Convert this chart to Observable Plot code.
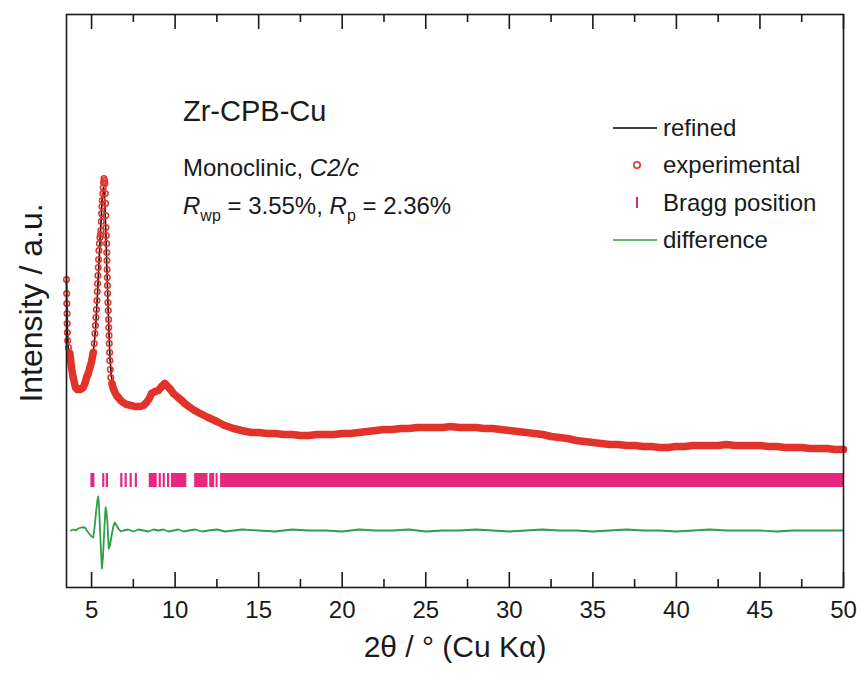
<!DOCTYPE html>
<html><head><meta charset="utf-8">
<script src="https://cdn.jsdelivr.net/npm/d3@7"></script>
<script src="https://cdn.jsdelivr.net/npm/@observablehq/plot@0.6"></script>
<style>body{margin:0;background:#fff;} svg{font-family:"Liberation Sans",Arial,sans-serif;}</style>
</head><body><div id="chart"></div>
<script>
// ---- experimental pattern (2θ in degrees, intensity in arbitrary units) ----
const expTheta = [3.50,3.51,3.52,3.53,3.54,3.55,3.57,3.62,3.70,3.80,3.90,4.04,4.15,4.30,4.40,4.50,4.60,4.70,4.80,4.90,5.00,5.10,5.16,5.20,5.23,5.26,5.29,5.32,5.34,5.36,5.38,5.40,5.42,5.44,5.47,5.50,5.53,5.56,5.58,5.60,5.62,5.64,5.67,5.70,5.72,5.74,5.77,5.80,5.82,5.84,5.85,5.86,5.88,5.90,5.91,5.92,5.93,5.94,5.95,5.96,5.98,6.00,6.02,6.03,6.05,6.06,6.08,6.09,6.12,6.15,6.22,6.30,6.40,6.50,6.60,6.75,6.89,7.10,7.39,7.60,7.89,8.10,8.29,8.45,8.59,8.80,8.99,9.20,9.38,9.50,9.68,9.90,10.18,10.40,10.58,10.90,11.17,11.50,11.98,12.50,12.97,13.50,13.97,14.56,15.0,15.5,16.0,16.5,17.0,17.5,18.0,18.5,19.0,19.5,20.0,20.5,21.0,21.5,22.0,22.5,23.0,23.5,24.0,24.5,25.0,25.5,26.0,26.5,27.0,27.5,28.0,28.5,29.0,29.5,30.0,30.5,31.0,31.5,32.0,32.5,33.0,33.5,34.0,34.5,35.0,35.5,36.0,36.5,37.0,37.5,38.0,38.5,39.0,39.5,40.0,40.5,41.0,41.5,42.0,42.5,43.0,43.5,44.0,44.5,45.0,45.5,46.0,46.5,47.0,47.5,48.0,48.5,49.0,49.5,50.0];
const expIntensity = [308,294,284,274,264,255,247,240,234,220,210,200,198,198,199,200,204,210,214,220,226,235,244,254,262,270,278,287,296,304,312,320,328,337,344,350,353,357,366,374,381,387,394,400,405,409,407,404,394,384,372,360,352,344,335,327,318,310,302,294,285,277,268,260,252,244,235,227,218,210,204,199,195,192,190,187,185,183,182,181,181,182,185,189,194,196,197,201,204,202,199,194,190,187,184,180,177,174,170,166,162,159,157,155,155,154,154,153,153,152,152,153,153,153,154,154,155,156,157,158,158,159,159,160,160,160,160,161,160,160,160,159,159,158,157,156,155,154,153,151,150,149,147,146,145,144,143,143,142,142,141,141,140,140,141,141,142,142,142,142,143,142,142,142,142,141,141,140,140,140,139,139,139,138,138];

// ---- refined (calculated) pattern ----
const refTheta = [3.50,3.52,3.55,3.60,3.70,3.80,3.90,4.05,4.30,4.50,4.70,4.90,5.05,5.15,5.25,5.35,5.45,5.55,5.62,5.68,5.72,5.76,5.80,5.86,5.92,5.98,6.04,6.10,6.18,6.30,6.50,6.80,7.20,7.60,8.00,8.40,8.80,9.20,9.40,9.70,10.20,10.60,11.20,12.00,13.00,14.00,15,18,20,22,25,28,30,32,35,38,40,43,45,48,50];
const refIntensity = [310,284,258,241,230,218,209,201,197,200,208,219,230,242,262,292,327,360,385,397,400,396,382,352,318,286,256,230,212,199,191,186,183,181,182,187,195,200,202,198,190,184,177,170,162,157,155,152,154,157,160,160,157,153,145,141,141,143,142,139,138];

// ---- difference curve (offset below the pattern) ----
const diffTheta = [3.75,3.90,4.05,4.20,4.40,4.60,4.80,5.00,5.10,5.18,5.26,5.34,5.40,5.45,5.50,5.56,5.62,5.68,5.74,5.80,5.84,5.89,5.94,5.99,6.03,6.10,6.20,6.30,6.39,6.50,6.60,6.75,6.89,7.2,7.5,7.8,8.1,8.4,8.7,9.0,9.3,9.6,9.9,10.2,10.5,10.8,11.2,11.6,12.0,12.5,13.0,13.5,14,15,16,17,18,19,20,21,22,23,24,25,26,27,28,29,30,31,32,33,34,35,36,37,38,39,40,41,42,43,44,45,46,47,48,49,50];
const diffIntensity = [57,58,57,59,60,60,55,51,50,60,74,86,91,80,60,38,19,30,50,70,80,76,67,50,39,42,52,61,65,62,59,56,57,58,56,58,57,56,58,57,58,56,57,58,56,57,58,56,57,58,56,57,58,57,56,58,57,57,56,58,57,57,58,56,57,57,58,57,56,57,58,57,57,56,57,58,57,57,56,57,58,57,57,57,56,57,57,57,57];

// ---- Bragg reflection positions (2θ) ----
const braggSingles = [5.70,5.92,6.78,7.04,7.34,7.65,9.08,9.32,9.58];
const braggClusterStart = [4.96,8.45,9.78,11.17,12.07,12.45,12.72];
const braggClusterEnd   = [5.20,8.93,10.70,11.97,12.37,12.57,50.0];
const braggLevel = [100,114];   // lower / upper intensity of the tick row

// ---- axis ticks & labels ----
const majorTicks = [5,10,15,20,25,30,35,40,45,50];
const minorTicks = [7.5,12.5,17.5,22.5,27.5,32.5,37.5,42.5,47.5];
const xLabel = "2θ / ° (Cu Kα)";
const yLabel = "Intensity / a.u.";
const legendLabels = ["refined","experimental","Bragg position","difference"];

const red = "#e2332b", pink = "#e8287f", green = "#2f9e48", ink = "#1a1a1a";
const exp = expTheta.map((x,i)=>({x, y: expIntensity[i]}));
const ref = refTheta.map((x,i)=>({x, y: refIntensity[i]}));
const diff = diffTheta.map((x,i)=>({x, y: diffIntensity[i]}));
const clusters = braggClusterStart.map((a,i)=>({a, b: braggClusterEnd[i]}));
const steep = d => d.x < 3.66 || (d.x > 5.14 && d.x < 6.18);
const font = "Liberation Sans, Arial, sans-serif";
const M = {top: 14, right: 19, bottom: 88, left: 66};
const frameH = 675 - M.top - M.bottom;

const plot = Plot.plot({
  width: 862, height: 675,
  marginLeft: M.left, marginRight: M.right, marginTop: M.top, marginBottom: M.bottom,
  x: {domain: [3.5, 50]},
  y: {domain: [0, 573], axis: null},
  style: {fontFamily: font, background: "white", color: ink},
  marks: [
    Plot.rect(clusters, {x1: "a", x2: "b", y1: braggLevel[0], y2: braggLevel[1], fill: pink}),
    Plot.ruleX(braggSingles, {x: d => d, y1: braggLevel[0], y2: braggLevel[1], stroke: pink, strokeWidth: 2.2}),
    Plot.line(diff, {x: "x", y: "y", stroke: green, strokeWidth: 1.8}),
    Plot.line(ref, {x: "x", y: "y", stroke: "black", strokeWidth: 1.6}),
    Plot.line(exp, {x: "x", y: d => steep(d) ? NaN : d.y, stroke: red, strokeWidth: 7.5}),
    Plot.dot(exp, {x: "x", y: "y", r: 2.8, stroke: red, strokeWidth: 1.5, fill: "none"}),
    // inward ticks, bottom and top
    Plot.ruleX(majorTicks, {x: d => d, insetTop: frameH - 15, stroke: ink, strokeWidth: 1.6}),
    Plot.ruleX(minorTicks, {x: d => d, insetTop: frameH - 8, stroke: ink, strokeWidth: 1.6}),
    Plot.ruleX(majorTicks, {x: d => d, insetBottom: frameH - 15, stroke: ink, strokeWidth: 1.6}),
    Plot.ruleX(minorTicks, {x: d => d, insetBottom: frameH - 8, stroke: ink, strokeWidth: 1.6}),
    Plot.frame({stroke: ink, strokeWidth: 1.6}),
    Plot.axisX(majorTicks, {anchor: "bottom", tickSize: 0, tickPadding: 13, fontSize: 24, label: null, fill: ink}),
    Plot.text([xLabel], {frameAnchor: "bottom", dy: 69, fontSize: 30, fill: ink}),
    Plot.text([yLabel], {frameAnchor: "left", textAnchor: "middle", rotate: -90, dx: -35, dy: 2, fontSize: 32, fill: ink})
  ]
});

const svg = d3.select(plot);
// annotation
const ann = svg.append("g").attr("font-family", font).attr("fill", ink).attr("text-anchor", "start");
ann.append("text").attr("x", 183).attr("y", 121).attr("font-size", 29).text("Zr-CPB-Cu");
const t2 = ann.append("text").attr("x", 183).attr("y", 176).attr("font-size", 24);
t2.append("tspan").text("Monoclinic, ");
t2.append("tspan").attr("font-style", "italic").text("C2/c");
const t3 = ann.append("text").attr("x", 183).attr("y", 214).attr("font-size", 24);
t3.append("tspan").attr("font-style", "italic").text("R");
t3.append("tspan").attr("font-size", 16).attr("dy", 7).text("wp");
t3.append("tspan").attr("dy", -7).text(" = 3.55%, ");
t3.append("tspan").attr("font-style", "italic").text("R");
t3.append("tspan").attr("font-size", 16).attr("dy", 7).text("p");
t3.append("tspan").attr("dy", -7).text(" = 2.36%");

// legend
const lg = svg.append("g").attr("font-family", font).attr("fill", ink).attr("font-size", 24).attr("text-anchor", "start");
const rows = [128, 165, 203, 240];
lg.append("line").attr("x1", 613).attr("x2", 657).attr("y1", rows[0]).attr("y2", rows[0]).attr("stroke", "black").attr("stroke-width", 1.6);
lg.append("circle").attr("cx", 637).attr("cy", rows[1]).attr("r", 3.2).attr("fill", "none").attr("stroke", red).attr("stroke-width", 1.6);
lg.append("line").attr("x1", 637).attr("x2", 637).attr("y1", rows[2]-6).attr("y2", rows[2]+5).attr("stroke", "#c8307f").attr("stroke-width", 2);
lg.append("line").attr("x1", 613).attr("x2", 657).attr("y1", rows[3]).attr("y2", rows[3]).attr("stroke", green).attr("stroke-width", 1.6);
legendLabels.forEach((l, i) => {
  lg.append("text").attr("x", 663).attr("y", rows[i] + 8).text(l);
});

document.getElementById("chart").appendChild(plot);
</script></body></html>
